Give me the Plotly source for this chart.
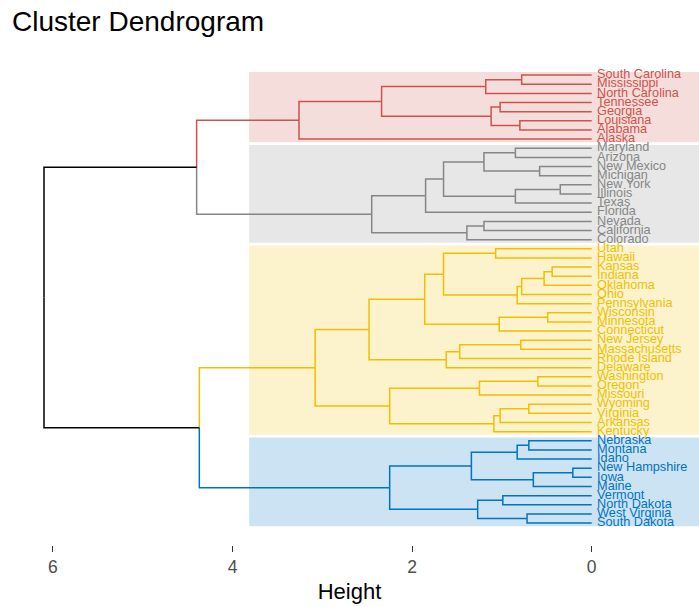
import plotly.graph_objects as go

# leaf labels, top to bottom
labels = [
    "South Carolina", "Mississippi", "North Carolina", "Tennessee", "Georgia",
    "Louisiana", "Alabama", "Alaska", "Maryland", "Arizona", "New Mexico",
    "Michigan", "New York", "Illinois", "Texas", "Florida", "Nevada",
    "California", "Colorado", "Utah", "Hawaii", "Kansas", "Indiana",
    "Oklahoma", "Ohio", "Pennsylvania", "Wisconsin", "Minnesota",
    "Connecticut", "New Jersey", "Massachusetts", "Rhode Island", "Delaware",
    "Washington", "Oregon", "Missouri", "Wyoming", "Virginia", "Arkansas",
    "Kentucky", "Nebraska", "Montana", "Idaho", "New Hampshire", "Iowa",
    "Maine", "Vermont", "North Dakota", "West Virginia", "South Dakota",
]

# hclust-style merge table: negative = leaf (1-based), positive = earlier row
merge = [
    (-1, -2), (1, -3), (-4, -5), (-6, -7), (3, 4), (2, 5), (6, -8),
    (-9, -10), (-11, -12), (8, 9), (-13, -14), (11, -15), (10, 12), (13, -16),
    (-17, -18), (15, -19), (14, 16), (7, 17),
    (-20, -21), (-22, -23), (20, -24), (21, -25), (22, -26), (19, 23),
    (-27, -28), (25, -29), (24, 26), (-30, -31), (28, -32), (29, -33),
    (27, 30), (-34, -35), (32, -36), (-37, -38), (34, -39), (35, -40),
    (33, 36), (31, 37),
    (-41, -42), (39, -43), (-44, -45), (41, -46), (40, 42), (-47, -48),
    (-49, -50), (44, 45), (43, 46), (38, 47), (18, 48),
]
heights = [
    0.78, 1.18, 1.02, 0.80, 1.12, 2.34, 3.26,
    0.85, 0.58, 1.20, 0.35, 0.85, 1.65, 1.85,
    1.20, 1.39, 2.45, 4.40,
    1.07, 0.44, 0.53, 0.78, 0.83, 1.65,
    0.49, 1.03, 1.86, 0.79, 1.47, 1.62,
    2.48, 0.60, 1.25, 0.70, 1.02, 1.09,
    2.25, 3.08,
    0.70, 0.83, 0.21, 0.65, 1.34, 0.99,
    0.72, 1.27, 2.25, 4.37, 6.10,
]

# clusters (k = 4): top merge row of each, its colour
cluster_tops = [7, 17, 38, 47]
cluster_colors = ["#CD534C", "#868686", "#EFC000", "#0073C2"]
cluster_fills = ["rgba(205,83,76,0.2)", "rgba(134,134,134,0.2)",
                 "rgba(239,192,0,0.2)", "rgba(0,115,194,0.2)"]


def node_y(n):
    if n < 0:
        return -n - 1
    a, b = merge[n - 1]
    return (node_y(a) + node_y(b)) / 2


def node_h(n):
    return 0.0 if n < 0 else heights[n - 1]


def members(n):
    if n < 0:
        return [-n - 1]
    a, b = merge[n - 1]
    return members(a) + members(b)


# colour of each node (leaf or merge)
node_color = {}
for top, col in zip(cluster_tops, cluster_colors):
    def paint(n, col=col):
        node_color[n] = col
        if n > 0:
            for c in merge[n - 1]:
                paint(c)
    paint(top)

segs = {}
for i, (a, b) in enumerate(merge):
    p = i + 1
    py, ph = node_y(p), node_h(p)
    for c in (a, b):
        col = node_color.get(c, "black")
        xs, ys = segs.setdefault(col, ([], []))
        cy, ch = node_y(c), node_h(c)
        xs += [ph, ph, ch, None]
        ys += [py, cy, cy, None]

fig = go.Figure()

# cluster rectangles
cut = (sorted(heights)[-4] + sorted(heights)[-3]) / 2
for top, fill in zip(cluster_tops, cluster_fills):
    m = members(top)
    fig.add_shape(type="rect", xref="x", yref="y", x0=cut, x1=-1.5,
                  y0=min(m) - 0.35, y1=max(m) + 0.35,
                  fillcolor=fill, line_width=0, layer="below")

for col, (xs, ys) in segs.items():
    fig.add_trace(go.Scatter(x=xs, y=ys, mode="lines",
                             line=dict(color=col, width=1.5),
                             hoverinfo="skip", showlegend=False))

leaf_colors = [node_color[-(i + 1)] for i in range(len(labels))]
fig.add_trace(go.Scatter(
    x=[-0.06] * len(labels), y=list(range(len(labels))), mode="text",
    text=labels, textposition="middle right",
    textfont=dict(color=leaf_colors, size=12.7,
                  family="Liberation Sans, Arial, sans-serif"),
    hoverinfo="skip", showlegend=False))

fig.update_layout(
    width=699, height=607,
    margin=dict(l=0, r=0, t=40, b=62),
    plot_bgcolor="white", paper_bgcolor="white",
    font=dict(family="Liberation Sans, Arial, sans-serif"),
    title=dict(text="Cluster Dendrogram", x=12 / 699, xref="container",
               xanchor="left", y=1 - 21 / 607, yref="container",
               yanchor="middle", font=dict(size=28, color="black")),
    xaxis=dict(range=[6.59, -1.195], tickvals=[0, 2, 4, 6],
               ticks="outside", ticklen=6, tickcolor="#333333",
               tickfont=dict(size=17.5, color="#4D4D4D"),
               showgrid=False, zeroline=False, showline=False,
               title=dict(text="Height", font=dict(size=22, color="black"),
                          standoff=7)),
    yaxis=dict(range=[51.4, -3.84], visible=False),
)

fig.write_html("out.html", config={"displayModeBar": False},
               post_script="document.body.style.margin='0';")
